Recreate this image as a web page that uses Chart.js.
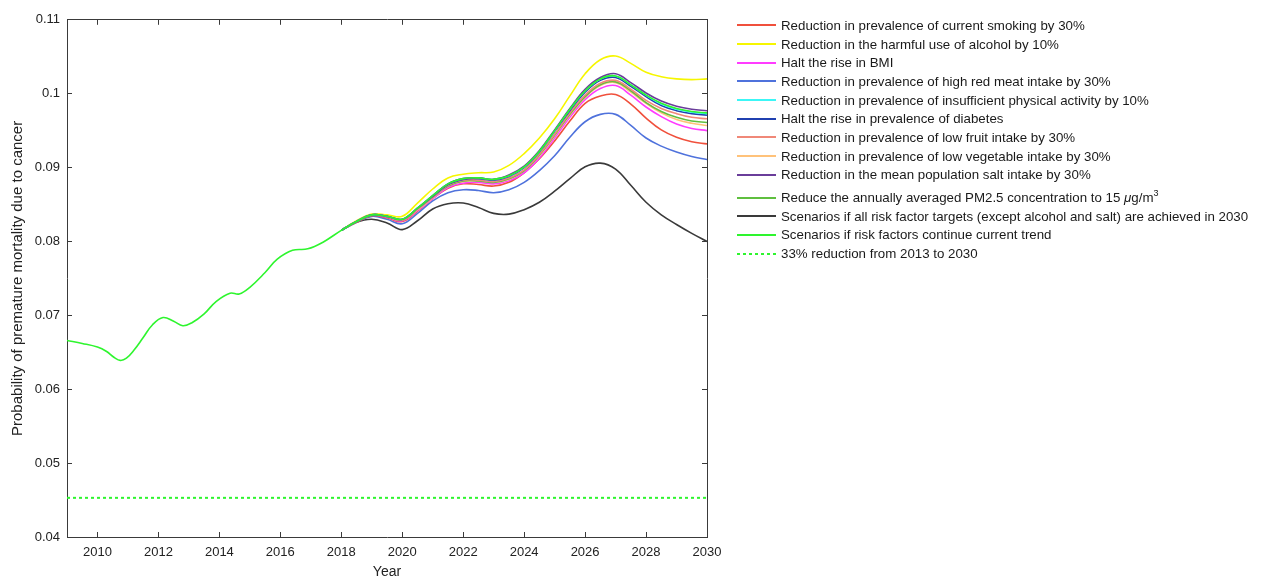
<!DOCTYPE html>
<html><head><meta charset="utf-8">
<script src="https://cdn.jsdelivr.net/npm/chart.js@4.4.1/dist/chart.umd.min.js"></script>
<style>
html,body{margin:0;padding:0;background:#fff;}
#wrap{position:relative;width:1262px;height:583px;overflow:hidden;}
canvas{position:absolute;left:0;top:0;}
#legend{position:absolute;left:737px;top:16px;font-family:'Liberation Sans',Arial,sans-serif;font-size:13.3px;color:#1a1a1a;}
.row{display:flex;align-items:center;height:18.7px;white-space:nowrap;}
.sw{width:39px;height:2px;margin-right:5px;flex:none;}
sup{font-size:9px;line-height:0;vertical-align:6px;}
</style></head>
<body><div id="wrap"><canvas id="c" width="1262" height="583"></canvas><div id="legend"></div></div>
<script>
// ---- data ----
const historyYears  = [2009, 2009.5, 2010, 2010.3, 2010.55, 2010.75, 2010.95, 2011.2, 2011.5, 2011.8, 2012.15, 2012.5, 2012.8, 2013.1, 2013.5, 2013.9, 2014.35, 2014.65, 2015, 2015.5, 2015.9, 2016.4, 2016.9, 2017.4];
const historyValues = [0.0666, 0.0662, 0.0657, 0.0651, 0.0643, 0.0639, 0.0642, 0.0653, 0.0670, 0.0687, 0.0697, 0.0692, 0.0686, 0.0690, 0.0702, 0.0719, 0.0730, 0.0729, 0.0738, 0.0758, 0.0776, 0.0788, 0.0790, 0.0799];

const scenarioYears = [2018, 2018.5, 2019, 2019.5, 2020, 2020.5, 2021, 2021.5, 2022, 2022.5, 2023, 2023.5, 2024, 2024.5, 2025, 2025.5, 2026, 2026.5, 2027, 2027.5, 2028, 2028.5, 2029, 2029.5, 2030];

const smoking    = [0.0815, 0.0826, 0.0835, 0.0832, 0.0827, 0.0841, 0.0858, 0.0872, 0.0878, 0.0877, 0.0875, 0.0880, 0.0893, 0.0912, 0.0936, 0.0963, 0.0987, 0.0997, 0.0999, 0.0986, 0.0967, 0.0951, 0.0941, 0.0935, 0.0932];
const alcohol    = [0.0815, 0.0828, 0.0837, 0.0836, 0.0834, 0.0852, 0.0871, 0.0886, 0.0891, 0.0893, 0.0894, 0.0903, 0.0919, 0.0940, 0.0966, 0.0997, 0.1027, 0.1046, 0.1051, 0.1041, 0.1029, 0.1023, 0.1020, 0.1019, 0.1020];
const bmi        = [0.0815, 0.0827, 0.0836, 0.0833, 0.0828, 0.0842, 0.0858, 0.0873, 0.0879, 0.0880, 0.0878, 0.0882, 0.0893, 0.0913, 0.0940, 0.0968, 0.0992, 0.1007, 0.1011, 0.0998, 0.0982, 0.0969, 0.0959, 0.0953, 0.0950];
const redMeat    = [0.0815, 0.0826, 0.0834, 0.0830, 0.0824, 0.0838, 0.0855, 0.0866, 0.0870, 0.0869, 0.0866, 0.0870, 0.0880, 0.0896, 0.0916, 0.0941, 0.0962, 0.0972, 0.0972, 0.0957, 0.0940, 0.0929, 0.0921, 0.0915, 0.0911];
const physical   = [0.0815, 0.0827, 0.0836, 0.0834, 0.0830, 0.0845, 0.0862, 0.0878, 0.0885, 0.0886, 0.0884, 0.0889, 0.0901, 0.0922, 0.0950, 0.0979, 0.1004, 0.1020, 0.1024, 0.1012, 0.0998, 0.0986, 0.0979, 0.0975, 0.0973];
const diabetes   = [0.0815, 0.0827, 0.0836, 0.0834, 0.0830, 0.0845, 0.0861, 0.0877, 0.0884, 0.0885, 0.0883, 0.0888, 0.0900, 0.0921, 0.0949, 0.0977, 0.1002, 0.1018, 0.1022, 0.1010, 0.0996, 0.0984, 0.0977, 0.0973, 0.0971];
const fruit      = [0.0815, 0.0827, 0.0836, 0.0834, 0.0829, 0.0844, 0.0860, 0.0876, 0.0883, 0.0883, 0.0881, 0.0886, 0.0897, 0.0918, 0.0945, 0.0974, 0.0998, 0.1014, 0.1018, 0.1006, 0.0991, 0.0980, 0.0973, 0.0968, 0.0966];
const vegetable  = [0.0815, 0.0827, 0.0836, 0.0834, 0.0829, 0.0843, 0.0859, 0.0875, 0.0881, 0.0882, 0.0880, 0.0884, 0.0896, 0.0916, 0.0943, 0.0971, 0.0995, 0.1011, 0.1015, 0.1002, 0.0987, 0.0974, 0.0965, 0.0960, 0.0957];
const salt       = [0.0815, 0.0827, 0.0836, 0.0834, 0.0830, 0.0845, 0.0862, 0.0878, 0.0885, 0.0886, 0.0884, 0.0890, 0.0902, 0.0923, 0.0951, 0.0980, 0.1006, 0.1022, 0.1027, 0.1015, 0.1001, 0.0990, 0.0983, 0.0979, 0.0977];
const pm25       = [0.0815, 0.0827, 0.0836, 0.0834, 0.0829, 0.0844, 0.0860, 0.0875, 0.0882, 0.0882, 0.0880, 0.0885, 0.0896, 0.0917, 0.0944, 0.0972, 0.0996, 0.1012, 0.1016, 0.1004, 0.0988, 0.0976, 0.0968, 0.0963, 0.0961];
const allTargets = [0.0815, 0.0826, 0.0830, 0.0825, 0.0816, 0.0828, 0.0844, 0.0851, 0.0852, 0.0846, 0.0838, 0.0837, 0.0843, 0.0853, 0.0868, 0.0885, 0.0901, 0.0906, 0.0898, 0.0876, 0.0853, 0.0836, 0.0823, 0.0811, 0.0800];
const trend      = [0.0815, 0.0827, 0.0836, 0.0834, 0.0830, 0.0845, 0.0862, 0.0878, 0.0885, 0.0886, 0.0884, 0.0889, 0.0901, 0.0922, 0.0950, 0.0979, 0.1004, 0.1020, 0.1024, 0.1012, 0.0998, 0.0987, 0.0980, 0.0976, 0.0974];

const targetYears  = [2009, 2030];
const targetValues = [0.0453, 0.0453];

const xTicks = [2010, 2012, 2014, 2016, 2018, 2020, 2022, 2024, 2026, 2028, 2030];
const yTicks = [0.04, 0.05, 0.06, 0.07, 0.08, 0.09, 0.1, 0.11];

const labels = [
  'Reduction in prevalence of current smoking by 30%',
  'Reduction in the harmful use of alcohol by 10%',
  'Halt the rise in BMI',
  'Reduction in prevalence of high red meat intake by 30%',
  'Reduction in prevalence of insufficient physical activity by 10%',
  'Halt the rise in prevalence of diabetes',
  'Reduction in prevalence of low fruit intake by 30%',
  'Reduction in prevalence of low vegetable intake by 30%',
  'Reduction in the mean population salt intake by 30%',
  'Reduce the annually averaged PM2.5 concentration to 15 <i>\u03bc</i>g/m<sup>3</sup>',
  'Scenarios if all risk factor targets (except alcohol and salt) are achieved in 2030',
  'Scenarios if risk factors continue current trend',
  '33% reduction from 2013 to 2030'
];
const colors = ['#f0503c', '#f6f600', '#ff3cff', '#4f72dc', '#3cf6f6', '#2040b0', '#f08878', '#ffc27a', '#6a3d9a', '#5fbf3f', '#3a3a3a', '#2ef52e', '#2ef52e'];

// ---- build ----
const pts = (xs, ys) => xs.map((x, i) => ({x, y: ys[i]}));
const scenarioSeries = [smoking, alcohol, bmi, redMeat, physical, diabetes, fruit, vegetable, salt, pm25, allTargets];
const trendXs = historyYears.concat(scenarioYears);
const trendYs = historyValues.concat(trend);

const mk = (i, data, extra) => Object.assign({
  label: labels[i].replace(/<[^>]+>/g, ''), data, borderColor: colors[i], backgroundColor: colors[i],
  borderWidth: 1.6, pointRadius: 0, cubicInterpolationMode: 'default', tension: 0.4, fill: false
}, extra || {});

// drawing order: index 0 is on top
const order = [11, 8, 4, 5, 6, 9, 7, 2, 0, 3, 1, 10];
const datasets = order.map(i => i === 11 ? mk(11, pts(trendXs, trendYs)) : mk(i, pts(scenarioYears, scenarioSeries[i])));
datasets.push(mk(12, pts(targetYears, targetValues), {borderDash: [3, 3], borderWidth: 2, tension: 0}));

const axisColor = '#3a3a3a';
const font = {family: "'Liberation Sans', Arial, sans-serif", size: 13};
const grid = {drawOnChartArea: false, drawTicks: true, tickLength: -5, tickColor: axisColor, tickWidth: 1};
const border = {display: true, color: axisColor, width: 1};
const keepX = s => { s.ticks = s.ticks.filter(t => xTicks.includes(Math.round(t.value))); };
const keepY = s => { s.ticks = yTicks.map(v => ({value: v})); };

new Chart(document.getElementById('c'), {
  type: 'line',
  data: {datasets},
  options: {
    responsive: false, animation: false, devicePixelRatio: 1,
    layout: {padding: {left: 0, right: 555, top: 13, bottom: 0}},
    plugins: {legend: {display: false}, tooltip: {enabled: false}},
    scales: {
      x: {type: 'linear', position: 'bottom', min: 2009, max: 2030,
        ticks: {stepSize: 1, color: '#222', font, padding: 13, maxRotation: 0, autoSkip: false, callback: v => String(v)},
        afterBuildTicks: keepX, afterFit: s => { s.height = 46; },
        grid, border,
        title: {display: true, text: 'Year', color: '#222', font: {family: font.family, size: 14}, padding: {top: 0, bottom: 2}}},
      x2: {type: 'linear', position: 'top', min: 2009, max: 2030,
        ticks: {display: false, stepSize: 1}, afterBuildTicks: keepX, afterFit: s => { s.height = 0; },
        grid, border},
      y: {type: 'linear', position: 'left', min: 0.04, max: 0.11,
        ticks: {color: '#222', font, padding: 12, callback: v => String(Math.round(v * 100) / 100)},
        afterBuildTicks: keepY, afterFit: s => { s.width = 67; },
        grid, border,
        title: {display: true, text: 'Probability of premature mortality due to cancer', color: '#222', font: {family: font.family, size: 15}, padding: {top: 9, bottom: 0}}},
      y2: {type: 'linear', position: 'right', min: 0.04, max: 0.11,
        ticks: {display: false}, afterBuildTicks: keepY, afterFit: s => { s.width = 0; },
        grid, border}
    }
  }
});

// ---- legend (HTML text) ----
const leg = document.getElementById('legend');
labels.forEach((txt, i) => {
  const row = document.createElement('div');
  row.className = 'row';
  if (i === 9) row.style.marginTop = '4px';
  const sw = document.createElement('div');
  sw.className = 'sw';
  sw.style.background = i === 12
    ? `repeating-linear-gradient(to right, ${colors[i]} 0 3px, transparent 3px 6px)`
    : colors[i];
  const t = document.createElement('span');
  t.innerHTML = txt;
  row.appendChild(sw); row.appendChild(t);
  leg.appendChild(row);
});
</script>
</body></html>
